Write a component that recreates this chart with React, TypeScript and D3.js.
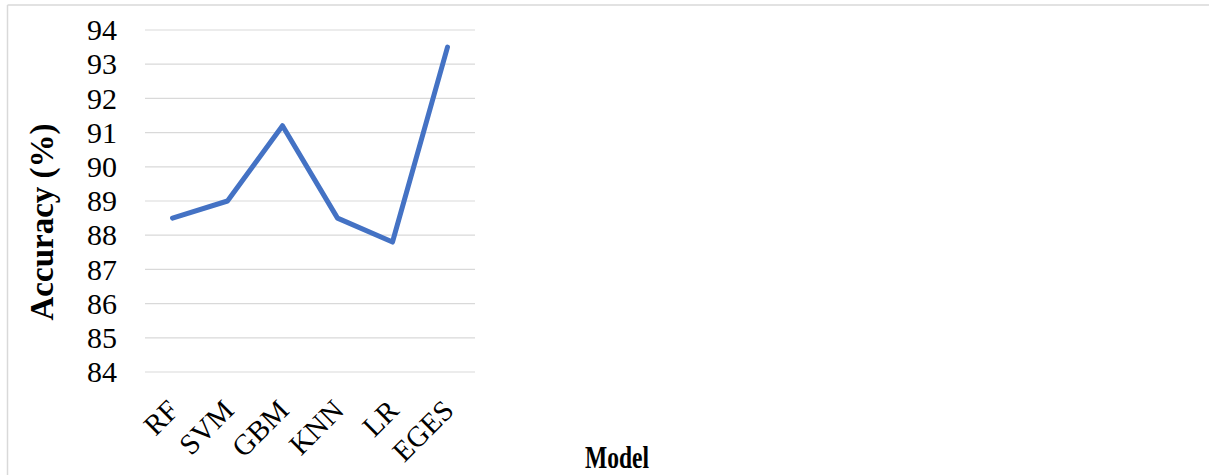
import React from "react";
import * as d3 from "d3";

const categories = ["RF", "SVM", "GBM", "KNN", "LR", "EGES"];
const accuracy = [88.5, 89.0, 91.2, 88.5, 87.8, 93.5];
const yTicks = [84, 85, 86, 87, 88, 89, 90, 91, 92, 93, 94];

const W = 1209;
const H = 475;
const plot = { left: 145, right: 475, top: 30, bottom: 372 };

export default function App() {
  const x = d3
    .scaleBand<string>()
    .domain(categories)
    .range([plot.left, plot.right]);
  const y = d3.scaleLinear().domain([84, 94]).range([plot.bottom, plot.top]);
  const cx = (c: string) => (x(c) as number) + x.bandwidth() / 2;
  const line = d3
    .line<number>()
    .x((_, i) => cx(categories[i]))
    .y((d) => y(d));

  const font = "'Liberation Serif', 'Times New Roman', serif";

  return (
    <svg
      width={W}
      height={H}
      style={{ position: "absolute", left: 0, top: 0, background: "#fff" }}
      fontFamily={font}
    >
      <rect x={0} y={0} width={W} height={H} fill="#fff" />
      {/* chart frame */}
      <line x1={7.5} y1={5} x2={W} y2={5} stroke="#d9d9d9" strokeWidth={1.5} />
      <line x1={7.5} y1={5} x2={7.5} y2={H} stroke="#d9d9d9" strokeWidth={1.5} />

      {/* grid */}
      {yTicks.map((t) => (
        <g key={t}>
          <line
            x1={plot.left}
            x2={plot.right}
            y1={y(t)}
            y2={y(t)}
            stroke="#d9d9d9"
            strokeWidth={1.2}
          />
          <text
            x={117}
            y={y(t)}
            dy="0.34em"
            textAnchor="end"
            fontSize={30}
            fill="#000"
          >
            {t}
          </text>
        </g>
      ))}

      {/* x labels */}
      {categories.map((c) => (
        <text
          key={c}
          transform={`translate(${cx(c) + 8},${412}) rotate(-45)`}
          textAnchor="end"
          fontSize={29}
          fill="#000"
        >
          {c}
        </text>
      ))}

      {/* line */}
      <path
        d={line(accuracy) || ""}
        fill="none"
        stroke="#4472c4"
        strokeWidth={5}
        strokeLinejoin="round"
        strokeLinecap="round"
      />

      {/* axis titles */}
      <text
        transform={`translate(53,222) rotate(-90)`}
        textAnchor="middle"
        fontSize={33}
        fontWeight="bold"
        fill="#000"
      >
        Accuracy (%)
      </text>
      <text
        x={585}
        y={468}
        fontSize={32}
        fontWeight="bold"
        fill="#000"
        textLength={64}
        lengthAdjust="spacingAndGlyphs"
      >
        Model
      </text>
    </svg>
  );
}
